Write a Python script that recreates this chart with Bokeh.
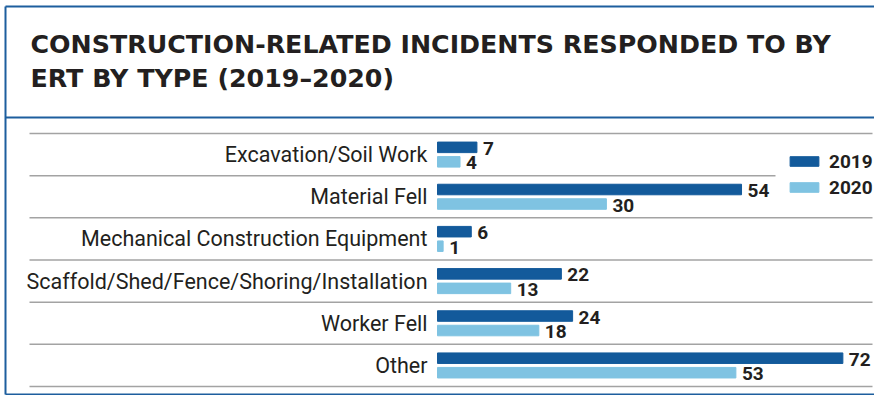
from bokeh.plotting import figure
from bokeh.models import ColumnDataSource, Range1d, Legend, LegendItem
from bokeh.core.properties import value
from bokeh.embed import file_html
from bokeh.resources import INLINE

# ---------------- data ----------------
title_lines = ["CONSTRUCTION-RELATED INCIDENTS RESPONDED TO BY",
               "ERT BY TYPE (2019\u20132020)"]
categories = ["Excavation/Soil Work", "Material Fell",
              "Mechanical Construction Equipment",
              "Scaffold/Shed/Fence/Shoring/Installation",
              "Worker Fell", "Other"]
series_names = ["2019", "2020"]
values_2019 = [7, 54, 6, 22, 24, 72]
values_2020 = [4, 30, 1, 13, 18, 53]

# ---------------- layout ----------------
W, H = 874, 395
X0_PX = 437.0          # pixel where value 0 sits
PX_PER_UNIT = 5.63     # pixels per incident
ROW_PX = 42.17         # pixels per category row
ROW0_PX = 154.1        # pixel centre of the first row

x_start = -X0_PX / PX_PER_UNIT
x_end = (W - X0_PX) / PX_PER_UNIT
y_end = ROW0_PX / ROW_PX
y_start = y_end - H / ROW_PX


def dx(px):
    return (px - X0_PX) / PX_PER_UNIT


def dy(py):
    return y_end - py / ROW_PX


C2019 = "#135a9b"
C2020 = "#7fc3e2"
BORDER = "#1d5e9e"
GREY = "#a3a3a3"
TXT = "#231f20"

LABEL_FONT = "Roboto"
NUM_FONT = "Roboto"
TITLE_FONT = "DejaVu Sans"

BAR_H = 0.25
OFF = 0.172

row_y = [-i for i in range(len(categories))]
src = ColumnDataSource(dict(
    cat=categories,
    y=row_y,
    y19=[y + OFF for y in row_y],
    y20=[y - OFF for y in row_y],
    v19=values_2019,
    v20=values_2020,
    t19=[str(v) for v in values_2019],
    t20=[str(v) for v in values_2020],
))

p = figure(width=W, height=H, output_backend="svg", toolbar_location=None,
           x_range=Range1d(x_start, x_end), y_range=Range1d(y_start, y_end),
           x_axis_type=None, y_axis_type=None, min_border=0)
p.xgrid.visible = False
p.ygrid.visible = False
p.outline_line_color = None
p.background_fill_color = "white"
p.border_fill_color = "white"

# outer frame and title divider
p.segment(x0=[dx(5), dx(5), dx(5), dx(5)],
          y0=[dy(6), dy(6), dy(394), dy(117)],
          x1=[dx(5), dx(W + 10), dx(W + 10), dx(W + 10)],
          y1=[dy(394), dy(6), dy(394), dy(117)],
          line_color=BORDER, line_width=2)

# row separators
sep_y = [0.5 - i for i in range(len(categories) + 1)]
sep_x1 = [dx(872)] * len(sep_y)
sep_x1[1] = dx(775)
p.segment(x0=[dx(29)] * len(sep_y), y0=sep_y, x1=sep_x1, y1=sep_y,
          line_color=GREY, line_width=1.5)

# title
p.text(x=[dx(30)] * 2, y=[dy(44), dy(78)], text=title_lines,
       text_font=value(TITLE_FONT), text_font_style="bold",
       text_font_size="25.3px", text_color=TXT, text_baseline="middle")

# bars
r19 = p.hbar(y="y19", left=0, right="v19", height=BAR_H, source=src,
             fill_color=C2019, line_color=C2019)
r20 = p.hbar(y="y20", left=0, right="v20", height=BAR_H, source=src,
             fill_color=C2020, line_color=C2020)

# category labels
p.text(x=0, y="y", text="cat", source=src, x_offset=-10,
       text_align="right", text_baseline="middle",
       text_font=value(LABEL_FONT), text_font_size="21.5px", text_color=TXT)

# value labels
for ycol, vcol, tcol in (("y19", "v19", "t19"), ("y20", "v20", "t20")):
    p.text(x=vcol, y=ycol, text=tcol, source=src, x_offset=6, y_offset=1,
           text_align="left", text_baseline="middle",
           text_font=value(NUM_FONT), text_font_style="bold",
           text_font_size="19px", text_color=TXT)

legend = Legend(items=[LegendItem(label=series_names[0], renderers=[r19]),
                       LegendItem(label=series_names[1], renderers=[r20])],
                location=(786, 196), orientation="vertical",
                glyph_width=36, glyph_height=12, label_standoff=7,
                label_height=24, spacing=2, padding=0, margin=0,
                border_line_color=None, background_fill_alpha=0,
                label_text_font=NUM_FONT, label_text_font_style="bold",
                label_text_font_size="19px", label_text_color=TXT)
p.add_layout(legend)

open("out.html", "w").write(file_html(p, INLINE))
